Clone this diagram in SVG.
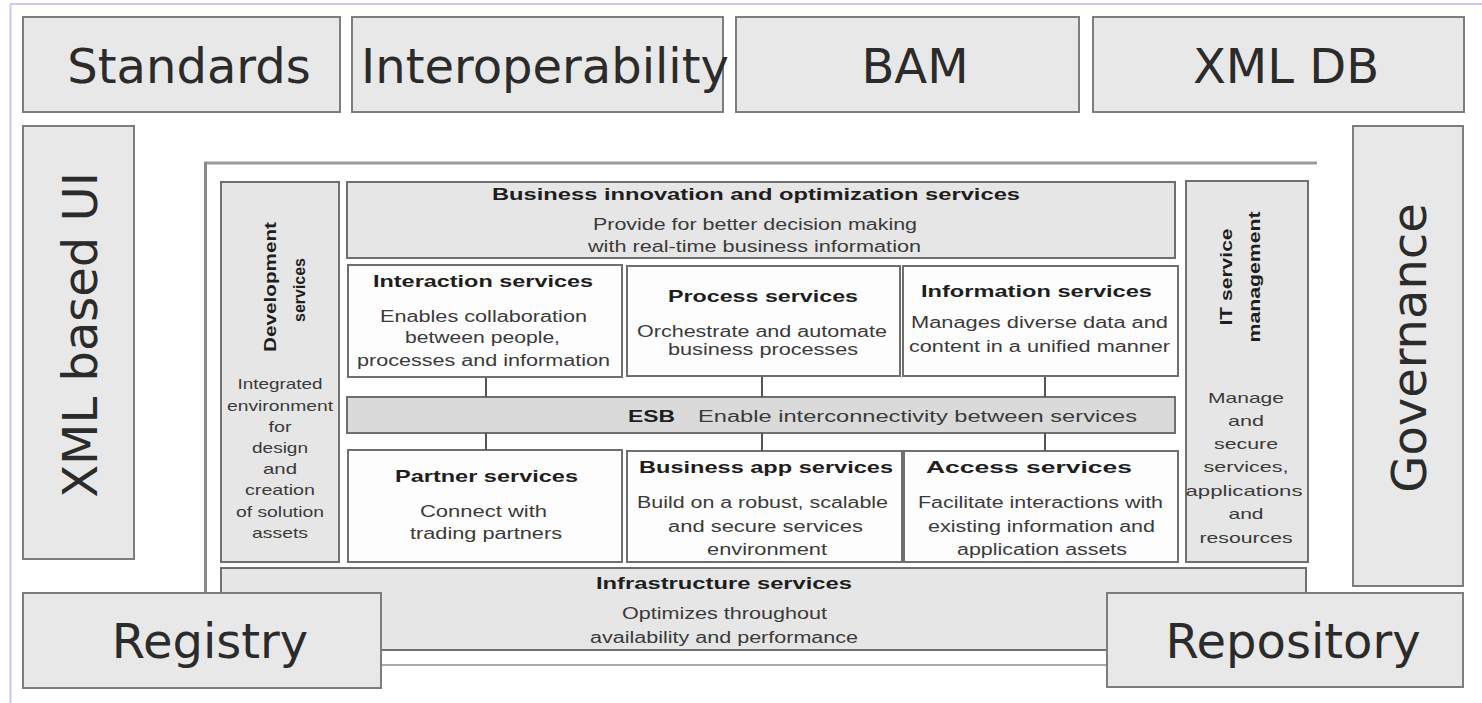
<svg xmlns="http://www.w3.org/2000/svg" width="1482" height="703" viewBox="0 0 1482 703">
<style>
.big{fill:#e8e8e8;stroke:#7d7d7d;stroke-width:2}
.bl{font-family:"DejaVu Sans",Verdana,sans-serif;font-size:48px;fill:#2b2b2b;text-anchor:middle}
.g{fill:#e6e6e6;stroke:#6f6f6f;stroke-width:2}
.w{fill:#fdfdfd;stroke:#6f6f6f;stroke-width:2}
.esb{fill:#dadada;stroke:#6f6f6f;stroke-width:2}
.t{font-family:"Liberation Sans",Arial,sans-serif;font-size:17px;font-weight:bold;fill:#1e1e1e}
.b{font-family:"Liberation Sans",Arial,sans-serif;font-size:16px;fill:#3a3a3a}
.s{font-family:"Liberation Sans",Arial,sans-serif;font-size:15px;fill:#3a3a3a;text-anchor:middle}
.c{stroke:#555;stroke-width:2;fill:none}
</style>
<rect width="1482" height="703" fill="#ffffff"/>
<g id="page-border" fill="none" stroke="#c9c9f2" stroke-width="2">
<line x1="10" y1="4" x2="1482" y2="4"/>
<line x1="10.5" y1="4" x2="10.5" y2="703"/>
</g>
<g id="soa-frame" fill="none">
<line x1="204" y1="163" x2="1317" y2="163" stroke="#9a9a9a" stroke-width="3"/>
<line x1="205.5" y1="162" x2="205.5" y2="666" stroke="#8a8a8a" stroke-width="3"/>
<line x1="204" y1="665" x2="1310" y2="665" stroke="#ababab" stroke-width="2"/>
</g>
<g id="development-services">
<rect class="g" x="221" y="182" width="118" height="380"/>
<text class="t" text-anchor="middle" transform="translate(276,287) rotate(-90)" textLength="130" lengthAdjust="spacingAndGlyphs">Development</text>
<text class="t" text-anchor="middle" transform="translate(305,290) rotate(-90)" textLength="64" lengthAdjust="spacingAndGlyphs">services</text>
<text class="s" x="280" y="389" textLength="85" lengthAdjust="spacingAndGlyphs">Integrated</text>
<text class="s" x="280" y="411" textLength="106" lengthAdjust="spacingAndGlyphs">environment</text>
<text class="s" x="280" y="432" textLength="23" lengthAdjust="spacingAndGlyphs">for</text>
<text class="s" x="280" y="453" textLength="56" lengthAdjust="spacingAndGlyphs">design</text>
<text class="s" x="280" y="474" textLength="34" lengthAdjust="spacingAndGlyphs">and</text>
<text class="s" x="280" y="495" textLength="70" lengthAdjust="spacingAndGlyphs">creation</text>
<text class="s" x="280" y="517" textLength="88" lengthAdjust="spacingAndGlyphs">of solution</text>
<text class="s" x="280" y="538" textLength="56" lengthAdjust="spacingAndGlyphs">assets</text>
</g>
<g id="business-innovation">
<rect class="g" x="347" y="182" width="828" height="76"/>
<text class="t" x="492" y="200" textLength="528" lengthAdjust="spacingAndGlyphs">Business innovation and optimization services</text>
<text class="b" x="593" y="230" textLength="324" lengthAdjust="spacingAndGlyphs">Provide for better decision making</text>
<text class="b" x="588" y="252" textLength="333" lengthAdjust="spacingAndGlyphs">with real-time business information</text>
</g>
<g id="interaction-services">
<rect class="w" x="348" y="265" width="274" height="112"/>
<text class="t" x="373" y="287" textLength="220" lengthAdjust="spacingAndGlyphs">Interaction services</text>
<text class="b" x="380" y="322" textLength="207" lengthAdjust="spacingAndGlyphs">Enables collaboration</text>
<text class="b" x="405" y="343" textLength="155" lengthAdjust="spacingAndGlyphs">between people,</text>
<text class="b" x="357" y="366" textLength="253" lengthAdjust="spacingAndGlyphs">processes and information</text>
</g>
<g id="process-services">
<rect class="w" x="627" y="266" width="273" height="110"/>
<text class="t" x="668" y="302" textLength="190" lengthAdjust="spacingAndGlyphs">Process services</text>
<text class="b" x="637" y="337" textLength="250" lengthAdjust="spacingAndGlyphs">Orchestrate and automate</text>
<text class="b" x="668" y="355" textLength="190" lengthAdjust="spacingAndGlyphs">business processes</text>
</g>
<g id="information-services">
<rect class="w" x="903" y="266" width="275" height="110"/>
<text class="t" x="921" y="297" textLength="231" lengthAdjust="spacingAndGlyphs">Information services</text>
<text class="b" x="911" y="328" textLength="257" lengthAdjust="spacingAndGlyphs">Manages diverse data and</text>
<text class="b" x="909" y="352" textLength="261" lengthAdjust="spacingAndGlyphs">content in a unified manner</text>
</g>
<g id="esb">
<rect class="esb" x="347" y="397" width="828" height="36"/>
<text class="t" x="628" y="422" textLength="47" lengthAdjust="spacingAndGlyphs">ESB</text>
<text class="b" x="698" y="422" textLength="439" lengthAdjust="spacingAndGlyphs">Enable interconnectivity between services</text>
</g>
<g id="partner-services">
<rect class="w" x="348" y="450" width="274" height="112"/>
<text class="t" x="395" y="482" textLength="183" lengthAdjust="spacingAndGlyphs">Partner services</text>
<text class="b" x="420" y="517" textLength="127" lengthAdjust="spacingAndGlyphs">Connect with</text>
<text class="b" x="410" y="539" textLength="152" lengthAdjust="spacingAndGlyphs">trading partners</text>
</g>
<g id="business-app-services">
<rect class="w" x="627" y="451" width="275" height="111"/>
<text class="t" x="639" y="473" textLength="254" lengthAdjust="spacingAndGlyphs">Business app services</text>
<text class="b" x="637" y="508" textLength="251" lengthAdjust="spacingAndGlyphs">Build on a robust, scalable</text>
<text class="b" x="668" y="532" textLength="195" lengthAdjust="spacingAndGlyphs">and secure services</text>
<text class="b" x="707" y="555" textLength="120" lengthAdjust="spacingAndGlyphs">environment</text>
</g>
<g id="access-services">
<rect class="w" x="904" y="451" width="274" height="111"/>
<text class="t" x="926" y="473" textLength="206" lengthAdjust="spacingAndGlyphs">Access services</text>
<text class="b" x="918" y="508" textLength="245" lengthAdjust="spacingAndGlyphs">Facilitate interactions with</text>
<text class="b" x="928" y="532" textLength="227" lengthAdjust="spacingAndGlyphs">existing information and</text>
<text class="b" x="957" y="555" textLength="170" lengthAdjust="spacingAndGlyphs">application assets</text>
</g>
<g id="it-service-management">
<rect class="g" x="1186" y="181" width="122" height="381"/>
<text class="t" text-anchor="middle" transform="translate(1232,277) rotate(-90)" textLength="97" lengthAdjust="spacingAndGlyphs">IT service</text>
<text class="t" text-anchor="middle" transform="translate(1260,277) rotate(-90)" textLength="131" lengthAdjust="spacingAndGlyphs">management</text>
<text class="s" x="1246" y="403" textLength="76" lengthAdjust="spacingAndGlyphs">Manage</text>
<text class="s" x="1246" y="426" textLength="36" lengthAdjust="spacingAndGlyphs">and</text>
<text class="s" x="1246" y="449" textLength="64" lengthAdjust="spacingAndGlyphs">secure</text>
<text class="s" x="1246" y="472" textLength="85" lengthAdjust="spacingAndGlyphs">services,</text>
<text class="s" x="1244" y="496" textLength="117" lengthAdjust="spacingAndGlyphs">applications</text>
<text class="s" x="1246" y="519" textLength="35" lengthAdjust="spacingAndGlyphs">and</text>
<text class="s" x="1246" y="543" textLength="93" lengthAdjust="spacingAndGlyphs">resources</text>
</g>
<g id="infrastructure-services">
<rect class="g" x="221" y="568" width="1085" height="82"/>
<text class="t" x="596" y="589" textLength="256" lengthAdjust="spacingAndGlyphs">Infrastructure services</text>
<text class="b" x="622" y="619" textLength="205" lengthAdjust="spacingAndGlyphs">Optimizes throughout</text>
<text class="b" x="590" y="643" textLength="268" lengthAdjust="spacingAndGlyphs">availability and performance</text>
</g>
<g id="connectors">
<line class="c" x1="486" y1="378" x2="486" y2="397"/>
<line class="c" x1="762" y1="377" x2="762" y2="397"/>
<line class="c" x1="1045" y1="377" x2="1045" y2="397"/>
<line class="c" x1="486" y1="433" x2="486" y2="450"/>
<line class="c" x1="762" y1="433" x2="762" y2="451"/>
<line class="c" x1="1045" y1="433" x2="1045" y2="451"/>
</g>
<g id="standards"><rect class="big" x="23" y="17" width="317" height="95"/><text class="bl" x="189" y="83">Standards</text></g>
<g id="interoperability"><rect class="big" x="352" y="17" width="371" height="95"/><text class="bl" x="545" y="83">Interoperability</text></g>
<g id="bam"><rect class="big" x="736" y="17" width="343" height="95"/><text class="bl" x="915" y="83">BAM</text></g>
<g id="xml-db"><rect class="big" x="1093" y="17" width="371" height="95"/><text class="bl" x="1286" y="83">XML DB</text></g>
<g id="xml-based-ui"><rect class="big" x="23" y="126" width="111" height="433"/><text class="bl" transform="translate(96.5,335) rotate(-90)">XML based UI</text></g>
<g id="governance"><rect class="big" x="1353" y="126" width="110" height="460"/><text class="bl" transform="translate(1426,348) rotate(-90)">Governance</text></g>
<g id="registry"><rect class="big" x="23" y="593" width="358" height="95"/><text class="bl" x="210" y="658">Registry</text></g>
<g id="repository"><rect class="big" x="1107" y="593" width="356" height="94"/><text class="bl" x="1293" y="658">Repository</text></g>
</svg>
